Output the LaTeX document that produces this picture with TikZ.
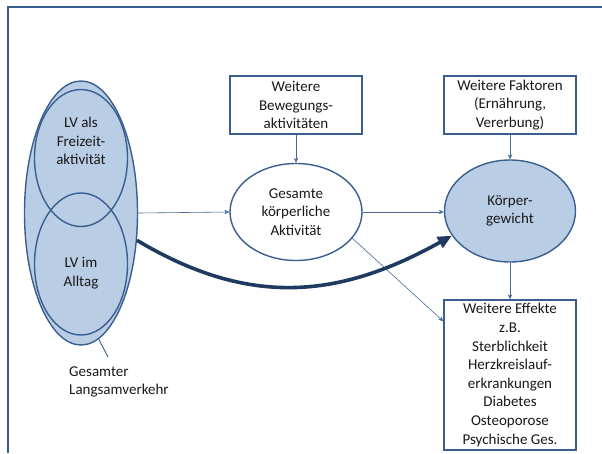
\documentclass[tikz,border=0pt]{standalone}
\usepackage{fontspec}
\setmainfont{Carlito}
\usetikzlibrary{shapes.geometric,arrows.meta,calc}
\definecolor{edgeblue}{HTML}{3A5F8F}
\definecolor{fillblue}{HTML}{B9CDE5}
\definecolor{navy}{HTML}{1F3A60}
\definecolor{thinblue}{HTML}{45699A}
\begin{document}
\begin{tikzpicture}[x=1pt,y=-1pt,
  every node/.style={font=\fontsize{15}{18.6}\selectfont, text=black!90, inner sep=0pt, align=center},
  factorbox/.style={draw=edgeblue, line width=1.4pt, fill=white, minimum width=132pt},
  oval/.style={ellipse, draw=edgeblue, line width=1.4pt},
  flow/.style={draw=thinblue, line width=0.6pt, -{Stealth[length=5pt,width=4.5pt]}},
  strong/.style={draw=navy, line width=3.6pt, -{Triangle[length=14pt,width=12pt]}}]
\useasboundingbox (0,0) rectangle (602,453);
% frame
\draw[edgeblue, line width=1.4pt] (8,453) -- (8,7) -- (602,7);

% slow traffic group
\node[oval, fill=fillblue, minimum width=113pt, minimum height=264pt] (lv) at (81,213) {};
\node[oval, minimum width=93pt, minimum height=137pt] (freizeitring) at (81,158) {};
\node[oval, minimum width=93pt, minimum height=142pt] (alltagring) at (81,264) {};
\node (freizeit) at (81,141) {LV als\\Freizeit-\\aktivität};
\node (alltag) at (81,273) {LV im\\Alltag};
\node[anchor=west, align=left] (gesamt) at (69,382) {Gesamter\\Langsamverkehr};
\coordinate (pinend) at (108,357);
\draw[edgeblue, line width=0.9pt] (lv.-82) -- (pinend);

% middle column
\node[factorbox, minimum height=58pt] (bewegung) at (296,105) {Weitere\\Bewegungs-\\aktivitäten};
\node[oval, fill=white, minimum width=132pt, minimum height=97pt] (akt) at (296,212) {Gesamte\\körperliche\\Aktivität};

% right column
\node[factorbox, minimum height=58pt] (faktoren) at (510,105) {Weitere Faktoren\\(Ernährung,\\Vererbung)};
\node[oval, fill=fillblue, minimum width=131pt, minimum height=102pt] (kg) at (510,211) {Körper-\\gewicht};
\node[factorbox, minimum height=150pt] (effekte) at (510,375) {Weitere Effekte\\z.B.\\Sterblichkeit\\Herzkreislauf-\\erkrankungen\\Diabetes\\Osteoporose\\Psychische Ges.};

% connectors
\draw[flow] (lv.east) -- (akt.west);
\draw[flow] (bewegung.south) -- (akt.north);
\draw[flow] (akt.east) -- (akt.east -| kg.west);
\draw[flow] (faktoren.south) -- (kg.north);
\draw[flow] (kg.south) -- (effekte.north);
\draw[flow] (akt.-25) -- ($(effekte.north west)+(0,22)$);
\draw[strong] (lv.-26) .. controls (250,308) and (340,298) .. (kg.203);
\end{tikzpicture}
\end{document}
